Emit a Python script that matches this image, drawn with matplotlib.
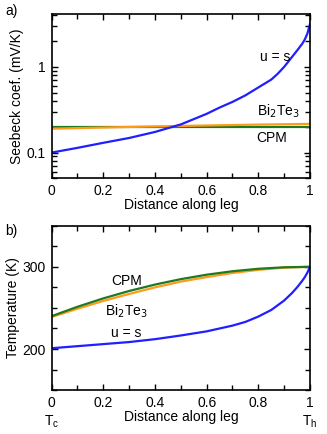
import matplotlib
matplotlib.use('Agg')
import matplotlib.pyplot as plt
from matplotlib.ticker import MultipleLocator, LogLocator, NullFormatter, FixedLocator, FuncFormatter

plt.rcParams['font.family'] = ['Liberation Sans', 'DejaVu Sans']
plt.rcParams['font.size'] = 10

# --- panel a) Seebeck coefficient (mV/K) ---
x_us_a = [0, 0.1, 0.2, 0.3, 0.4, 0.5, 0.6, 0.65, 0.7, 0.75, 0.8, 0.85, 0.875,
          0.9, 0.93, 0.95, 0.97, 0.98, 0.99, 1.0]
s_us = [0.100, 0.1135, 0.130, 0.148, 0.174, 0.213, 0.283, 0.335, 0.39, 0.465,
        0.575, 0.71, 0.83, 1.0, 1.3, 1.55, 1.86, 2.09, 2.45, 3.16]
x_mat = [0, 0.2, 0.4, 0.6, 0.8, 1.0]
s_bite = [0.190, 0.196, 0.202, 0.207, 0.212, 0.216]
s_cpm = [0.200, 0.200, 0.200, 0.200, 0.200, 0.200]

# --- panel b) Temperature (K) ---
x_t = [0, 0.1, 0.2, 0.3, 0.4, 0.5, 0.6, 0.7, 0.8, 0.9, 1.0]
t_cpm = [240, 251.4, 261.6, 270.6, 278.4, 285, 290.4, 294.6, 297.6, 299.4, 300]
t_bite = [239, 249, 258.5, 267, 275, 282, 287.5, 292.5, 296.3, 299, 300]
x_us_b = [0, 0.1, 0.2, 0.3, 0.4, 0.5, 0.6, 0.7, 0.75, 0.8, 0.85, 0.9,
          0.93, 0.95, 0.97, 0.98, 0.99, 1.0]
t_us = [201, 203.5, 206, 208.5, 212, 216.5, 221.5, 228.5, 233, 239.5, 247.5,
        259, 268, 275, 283, 287.5, 293, 300]

blue = '#1f1fff'
orange = '#ff9a1a'
green = '#1f7a1f'

fig = plt.figure(figsize=(3.27, 4.34), dpi=100)
ax1 = fig.add_axes([0.158, 0.589, 0.790, 0.378])
ax2 = fig.add_axes([0.158, 0.101, 0.790, 0.379])

ax1.plot(x_mat, s_cpm, color=green, lw=1.6)
ax1.plot(x_mat, s_bite, color=orange, lw=1.6)
ax1.plot(x_us_a, s_us, color=blue, lw=1.6)
ax1.set_yscale('log')
ax1.set_xlim(0, 1)
ax1.set_ylim(0.05, 4.1)
ax1.yaxis.set_major_locator(FixedLocator([0.1, 1]))
ax1.yaxis.set_major_formatter(FuncFormatter(lambda v, p: '%g' % v))
ax1.yaxis.set_minor_locator(LogLocator(base=10, subs=range(2, 10)))
ax1.yaxis.set_minor_formatter(NullFormatter())
ax1.set_ylabel('Seebeck coef. (mV/K)', labelpad=2)
ax1.set_xlabel('Distance along leg', labelpad=0)
ax1.text(0.865, 1.3, 'u = s', ha='center', va='center')
ax1.text(0.876, 0.30, r'Bi$_2$Te$_3$', ha='center', va='center')
ax1.text(0.853, 0.149, 'CPM', ha='center', va='center')
fig.text(0.015, 0.975, 'a)', ha='left', va='center')

ax2.plot(x_t, t_bite, color=orange, lw=1.6)
ax2.plot(x_t, t_cpm, color=green, lw=1.6)
ax2.plot(x_us_b, t_us, color=blue, lw=1.6)
ax2.set_xlim(0, 1)
ax2.set_ylim(150, 350)
ax2.yaxis.set_major_locator(FixedLocator([200, 300]))
ax2.yaxis.set_minor_locator(MultipleLocator(25))
ax2.set_ylabel('Temperature (K)', labelpad=2)
ax2.set_xlabel('Distance along leg', labelpad=0)
ax2.text(0.29, 282.5, 'CPM', ha='center', va='center')
ax2.text(0.29, 246, r'Bi$_2$Te$_3$', ha='center', va='center')
ax2.text(0.29, 219.5, 'u = s', ha='center', va='center')
ax2.text(0.0, -0.19, r'T$_\mathregular{c}$', transform=ax2.transAxes, ha='center', va='center')
ax2.text(1.0, -0.19, r'T$_\mathregular{h}$', transform=ax2.transAxes, ha='center', va='center')
fig.text(0.015, 0.468, 'b)', ha='left', va='center')

for ax in (ax1, ax2):
    ax.xaxis.set_major_locator(MultipleLocator(0.2))
    ax.xaxis.set_minor_locator(MultipleLocator(0.1))
    ax.xaxis.set_major_formatter(FuncFormatter(lambda v, p: '%g' % round(v, 1)))
    ax.tick_params(which='both', direction='in', top=True, right=True, width=1)
    ax.tick_params(which='major', length=4, pad=4)
    ax.tick_params(which='minor', length=3.5)
    for sp in ax.spines.values():
        sp.set_linewidth(1.2)

fig.savefig('out.png', dpi=100)
